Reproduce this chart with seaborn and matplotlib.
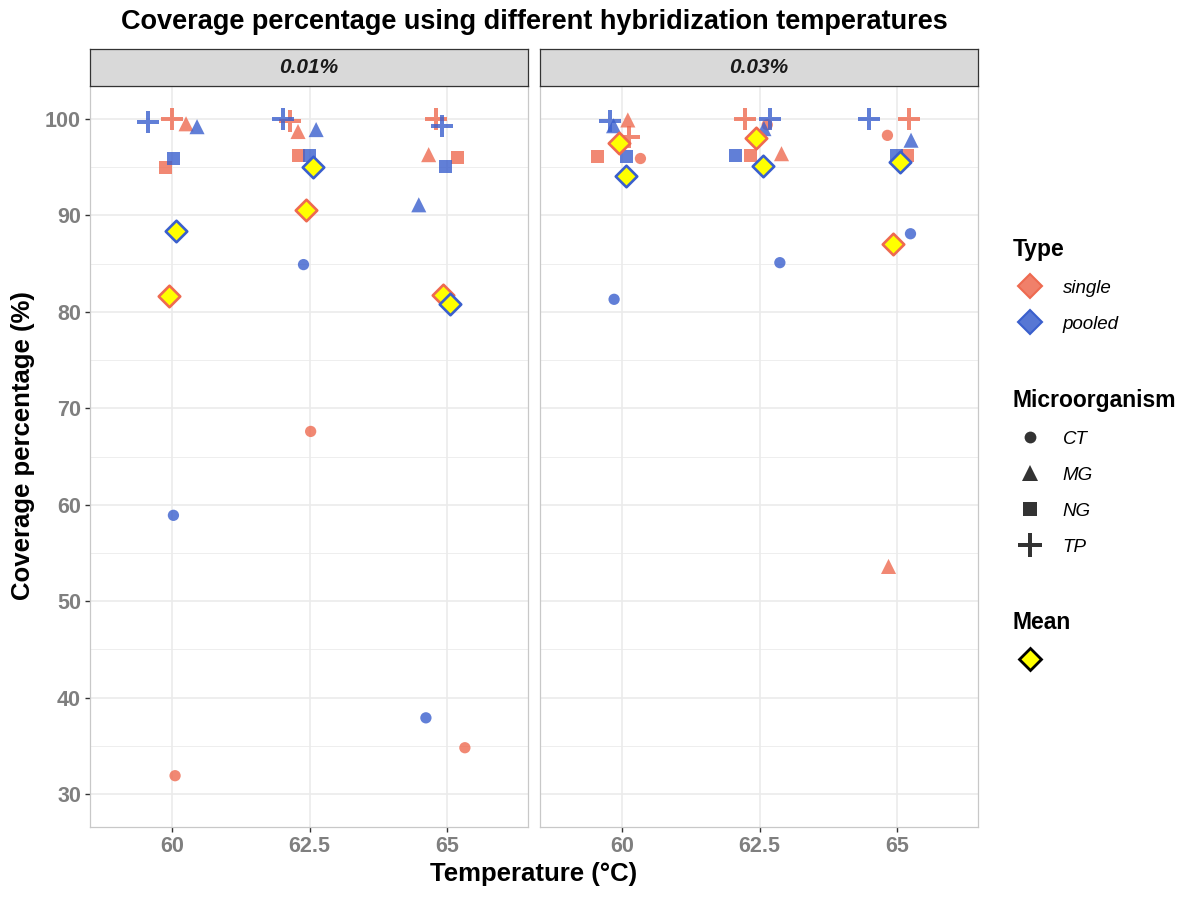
import numpy as np
import pandas as pd
import matplotlib
matplotlib.use('Agg')
import matplotlib.pyplot as plt
from matplotlib.lines import Line2D
from matplotlib.ticker import MultipleLocator, FixedLocator
import seaborn as sns

sns.set_theme(style='white')
plt.rcParams['font.family'] = ['Liberation Sans', 'DejaVu Sans']
plt.rcParams['text.color'] = 'black'

# ---- data ----
concentration = ['0.01%'] * 24 + ['0.03%'] * 24
temperature = ([60] * 8 + [62.5] * 8 + [65] * 8) * 2
sample_type = (['single'] * 4 + ['pooled'] * 4) * 6
microorganism = ['CT', 'MG', 'NG', 'TP'] * 12
coverage = [
    31.9, 99.5, 95.0, 100.0,   58.9, 99.2, 95.9, 99.7,
    67.6, 98.7, 96.2, 99.8,    84.9, 98.9, 96.2, 100.0,
    34.8, 96.3, 96.0, 100.0,   37.9, 91.1, 95.1, 99.3,
    95.9, 99.9, 96.1, 98.1,    81.3, 99.3, 96.1, 99.8,
    99.4, 96.4, 96.2, 100.0,   85.1, 99.0, 96.2, 100.0,
    98.3, 53.6, 96.2, 100.0,   88.1, 97.8, 96.2, 100.0,
]
# jittered temperature as drawn in the reference
temp_jitter = [
    60.05, 60.25, 59.87, 60.00,   60.02, 60.45, 60.02, 59.56,
    62.52, 62.29, 62.30, 62.15,   62.39, 62.62, 62.50, 62.01,
    65.33, 64.67, 65.19, 64.81,   64.62, 64.49, 64.98, 64.91,
    60.33, 60.10, 59.54, 60.12,   59.85, 59.84, 60.07, 59.78,
    62.64, 62.90, 62.34, 62.23,   62.87, 62.58, 62.07, 62.69,
    64.83, 64.85, 65.20, 65.22,   65.25, 65.26, 64.99, 64.50,
]

df = pd.DataFrame({
    'conc': concentration, 'temp': temperature, 'Type': sample_type,
    'Micro': microorganism, 'coverage': coverage, 'temp_j': temp_jitter,
})
means = df.groupby(['conc', 'temp', 'Type'], as_index=False)['coverage'].mean()
means['x'] = means['temp'] + means['Type'].map({'single': -0.065, 'pooled': 0.065})

palette = {'single': '#EE6A50', 'pooled': '#3A5FCD'}

w = 0.19
cross = [(-1, -w), (-w, -w), (-w, -1), (w, -1), (w, -w), (1, -w), (1, w),
         (w, w), (w, 1), (-w, 1), (-w, w), (-1, w), (-1, -w)]
marker_map = {'CT': 'o', 'MG': '^', 'NG': 's', 'TP': cross}
size_map = {'CT': 66, 'MG': 118, 'NG': 88, 'TP': 255}

fig = plt.figure(figsize=(12, 9), dpi=100)
W, H = 1200, 900
panels = [('0.01%', 90), ('0.03%', 540)]
ptop, pbot = 86, 827

for i, (conc, x0) in enumerate(panels):
    ax = fig.add_axes([x0 / W, 1 - pbot / H, 438 / W, (pbot - ptop) / H])
    sub = df[df['conc'] == conc]
    for m in ['CT', 'MG', 'NG', 'TP']:
        sns.scatterplot(data=sub[sub['Micro'] == m], x='temp_j', y='coverage',
                        hue='Type', palette=palette, marker=marker_map[m],
                        s=size_map[m], alpha=0.8, linewidth=0, edgecolor='none',
                        legend=False, ax=ax, zorder=3)
    msub = means[means['conc'] == conc]
    for t in ['single', 'pooled']:
        sns.scatterplot(data=msub[msub['Type'] == t], x='x', y='coverage',
                        marker='D', s=120, color='#FFFF00', edgecolor=palette[t],
                        linewidth=1.9, legend=False, ax=ax, zorder=4)

    ax.set_xlim(58.5, 66.48)
    ax.set_ylim(26.58, 103.42)
    ax.xaxis.set_major_locator(FixedLocator([60, 62.5, 65]))
    ax.set_xticklabels(['60', '62.5', '65'])
    ax.yaxis.set_major_locator(MultipleLocator(10))
    ax.yaxis.set_minor_locator(MultipleLocator(5))
    ax.grid(which='major', color='#EBEBEB', linewidth=1.2, zorder=0)
    ax.grid(which='minor', axis='y', color='#EBEBEB', linewidth=0.6, zorder=0)
    ax.set_axisbelow(True)
    for sp in ax.spines.values():
        sp.set_color('#C8C8C8')
        sp.set_linewidth(0.9)
    ax.tick_params(axis='both', which='major', colors='#333333', length=3.5,
                   width=1.0, labelcolor='#7F7F7F', labelsize=15.5, pad=3)
    ax.tick_params(axis='y', which='minor', length=0)
    for lab in ax.get_xticklabels() + ax.get_yticklabels():
        lab.set_fontweight('bold')
    ax.tick_params(axis='x', bottom=True)
    if i == 0:
        ax.tick_params(axis='y', left=True)
    else:
        ax.tick_params(axis='y', left=False, labelleft=False)
    ax.set_xlabel('')
    ax.set_ylabel('')

    # facet strip
    sax = fig.add_axes([x0 / W, 1 - ptop / H, 438 / W, 37 / H])
    sax.set_facecolor('#D9D9D9')
    sax.set_xticks([])
    sax.set_yticks([])
    for sp in sax.spines.values():
        sp.set_color('#333333')
        sp.set_linewidth(0.9)
    sax.text(0.5, 0.5, conc, ha='center', va='center', fontsize=15,
             fontweight='bold', fontstyle='italic', color='#1A1A1A',
             transform=sax.transAxes)

fig.text(534 / W, 1 - 22 / H, 'Coverage percentage using different hybridization temperatures',
         ha='center', va='center', fontsize=19.5, fontweight='bold')
fig.text(534 / W, 1 - 874 / H, 'Temperature (°C)', ha='center', va='center',
         fontsize=18.5, fontweight='bold')
fig.text(23 / W, 1 - 446 / H, 'Coverage percentage (%)', ha='center', va='center',
         rotation=90, fontsize=18.5, fontweight='bold')

# legends
leg_kw = dict(frameon=False, loc='upper left', fontsize=13.5, handlelength=1.8,
              handletextpad=0.85, labelspacing=1.0, borderpad=0, borderaxespad=0,
              alignment='left', title_fontproperties={'weight': 'bold', 'size': 16.5})
type_handles = [Line2D([], [], linestyle='', marker='D', markersize=12,
                       markerfacecolor=matplotlib.colors.to_rgba(palette[t], 0.85),
                       markeredgecolor=palette[t], markeredgewidth=1.5)
                for t in ['single', 'pooled']]
l1 = fig.legend(type_handles, ['single', 'pooled'], title='Type',
                bbox_to_anchor=(1013 / W, 1 - 238 / H), **leg_kw)
micro_sizes = {'CT': 8.5, 'MG': 11, 'NG': 9.5, 'TP': 17}
micro_handles = [Line2D([], [], linestyle='', marker=marker_map[m], markersize=micro_sizes[m],
                        markerfacecolor='#333333', markeredgewidth=0)
                 for m in ['CT', 'MG', 'NG', 'TP']]
l2 = fig.legend(micro_handles, ['CT', 'MG', 'NG', 'TP'], title='Microorganism',
                bbox_to_anchor=(1013 / W, 1 - 389 / H), **leg_kw)
mean_handle = [Line2D([], [], linestyle='', marker='D', markersize=11,
                      markerfacecolor='#FFFF00', markeredgecolor='black', markeredgewidth=2)]
l3 = fig.legend(mean_handle, [''], title='Mean',
                bbox_to_anchor=(1013 / W, 1 - 611 / H), **leg_kw)
for lg in (l1, l2, l3):
    for txt in lg.get_texts():
        txt.set_fontstyle('italic')

fig.savefig('out.png', dpi=100)
